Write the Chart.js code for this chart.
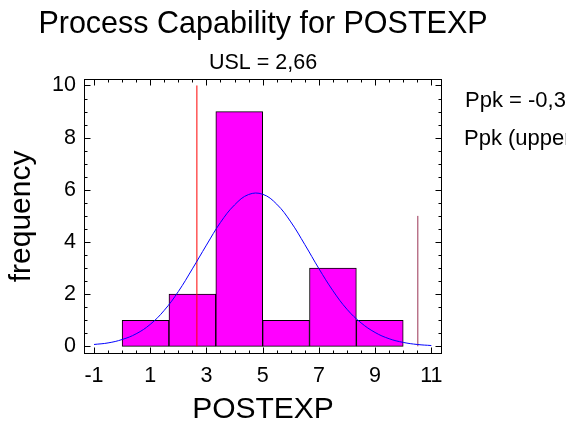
<!DOCTYPE html>
<html>
<head>
<meta charset="utf-8">
<script src="https://cdn.jsdelivr.net/npm/chart.js@4.4.0/dist/chart.umd.min.js"></script>
<style>
  html, body { margin: 0; padding: 0; background: #fff; overflow: hidden; }
  canvas { display: block; }
</style>
</head>
<body>
<canvas id="c" width="566" height="425"></canvas>
<script>
// Histogram bins (centres) and their counts
const binCenters = [0.833, 2.5, 4.167, 5.833, 7.5, 9.167];
const frequencies = [1, 2, 9, 1, 3, 1];

// Fitted normal curve, sampled every half unit
const curveX = [-1, -0.5, 0, 0.5, 1, 1.5, 2, 2.5, 3, 3.5, 4, 4.5, 5, 5.5, 6, 6.5, 7, 7.5, 8, 8.5, 9, 9.5, 10, 10.5, 11];
const curveY = [0.07, 0.13, 0.26, 0.48, 0.84, 1.38, 2.1, 2.97, 3.88, 4.75, 5.42, 5.82, 5.83, 5.45, 4.77, 3.9, 2.98, 2.13, 1.42, 0.9, 0.53, 0.29, 0.15, 0.07, 0.03];

// Specification limit and the upper reference line
const uslValue = 2.66;
const uslHeight = 10;
const limitValue = 10.52;
const limitHeight = 5;

// Axis tick labels
const xTickValues = [-1, 1, 3, 5, 7, 9, 11];
const yTickValues = [0, 2, 4, 6, 8, 10];
const minorStep = 0.5;

// Titles and the capability statistics shown at the right
const mainTitle = 'Process Capability for POSTEXP';
const subTitle = 'USL = 2,66';
const statLines = ['Ppk = -0,36', 'Ppk (upper) = -0,36'];

const FONT = "'Liberation Sans', Arial, Helvetica, sans-serif";
Chart.defaults.font.family = FONT;
Chart.defaults.color = '#000';

// Frame around the plot with inward major/minor ticks on all four sides
const frameTicks = {
  id: 'frameTicks',
  afterDatasetsDraw(chart) {
    const { ctx, chartArea: a, scales: { x, y } } = chart;
    const L = Math.round(a.left) + 0.5, R = Math.round(a.right) - 0.5;
    const T = Math.round(a.top) + 0.5, B = Math.round(a.bottom) - 0.5;
    ctx.save();
    ctx.strokeStyle = '#000';
    ctx.lineWidth = 1;
    ctx.strokeRect(L, T, R - L, B - T);
    ctx.beginPath();
    const x0 = xTickValues[0], x1 = xTickValues[xTickValues.length - 1];
    for (let v = x0; v <= x1 + 1e-9; v += minorStep) {
      const px = Math.round(x.getPixelForValue(v)) + 0.5;
      const major = xTickValues.some(t => Math.abs(t - v) < 1e-9);
      const len = major ? 6 : 3;
      ctx.moveTo(px, B); ctx.lineTo(px, B - len);
      ctx.moveTo(px, T); ctx.lineTo(px, T + len);
    }
    const y0 = yTickValues[0], y1 = yTickValues[yTickValues.length - 1];
    for (let v = y0; v <= y1 + 1e-9; v += minorStep) {
      const py = Math.round(y.getPixelForValue(v)) + 0.5;
      const major = yTickValues.some(t => Math.abs(t - v) < 1e-9);
      const len = major ? 6 : 3;
      ctx.moveTo(L, py); ctx.lineTo(L + len, py);
      ctx.moveTo(R, py); ctx.lineTo(R - len, py);
    }
    ctx.stroke();
    ctx.restore();
  }
};

// Main title centred over the plot, and statistics text to the right
const extraText = {
  id: 'extraText',
  afterDraw(chart) {
    const { ctx, chartArea: a } = chart;
    ctx.save();
    ctx.fillStyle = '#000';
    ctx.textBaseline = 'alphabetic';
    ctx.font = '30.5px ' + FONT;
    ctx.textAlign = 'center';
    ctx.fillText(mainTitle, (a.left + a.right) / 2, 33);
    ctx.font = '22px ' + FONT;
    ctx.textAlign = 'left';
    ctx.fillText(statLines[0], a.right + 23, 107);
    ctx.fillText(statLines[1], a.right + 22, 145);
    ctx.restore();
  }
};

new Chart(document.getElementById('c'), {
  type: 'bar',
  data: {
    datasets: [
      {
        type: 'line',
        data: curveX.map((x, i) => ({ x, y: curveY[i] })),
        borderColor: '#0000ff',
        borderWidth: 1,
        pointRadius: 0,
        fill: false,
        tension: 0.4,
        order: 1
      },
      {
        type: 'line',
        data: [{ x: uslValue, y: 0 }, { x: uslValue, y: uslHeight }],
        borderColor: '#ff0000',
        borderWidth: 1,
        pointRadius: 0,
        fill: false,
        order: 1
      },
      {
        type: 'line',
        data: [{ x: limitValue, y: 0 }, { x: limitValue, y: limitHeight }],
        borderColor: '#993355',
        borderWidth: 1,
        pointRadius: 0,
        fill: false,
        order: 1
      },
      {
        type: 'bar',
        data: binCenters.map((x, i) => ({ x, y: frequencies[i] })),
        backgroundColor: '#ff00ff',
        borderColor: '#000000',
        borderWidth: 1,
        borderSkipped: false,
        barPercentage: 1,
        categoryPercentage: 1,
        grouped: false,
        order: 2
      }
    ]
  },
  options: {
    responsive: false,
    animation: false,
    devicePixelRatio: 1,
    layout: { padding: { left: 0, right: 124, top: 41, bottom: 0 } },
    plugins: {
      legend: { display: false },
      tooltip: { enabled: false },
      title: { display: false },
      subtitle: {
        display: true,
        text: subTitle,
        fullSize: false,
        color: '#000',
        font: { size: 21.5, weight: 'normal', lineHeight: 1.2 },
        padding: { top: 9, bottom: 3 }
      }
    },
    scales: {
      x: {
        type: 'linear',
        offset: false,
        min: -1.356,
        max: 11.38,
        grid: { display: false, drawTicks: false },
        border: { display: false },
        afterBuildTicks: s => { s.ticks = xTickValues.map(v => ({ value: v })); },
        afterFit: s => { s.height = 71; },
        ticks: { font: { size: 21.5 }, color: '#000', padding: 9, maxRotation: 0, minRotation: 0, autoSkip: false },
        title: { display: true, text: 'POSTEXP', color: '#000', font: { size: 30, lineHeight: 1.0 }, padding: 0 }
      },
      y: {
        type: 'linear',
        min: -0.295,
        max: 10.256,
        grid: { display: false, drawTicks: false },
        border: { display: false },
        afterBuildTicks: s => { s.ticks = yTickValues.map(v => ({ value: v })); },
        afterFit: s => { s.width = 84; },
        ticks: { font: { size: 21.5 }, color: '#000', padding: 8, autoSkip: false },
        title: { display: true, text: 'frequency', color: '#000', font: { size: 30, lineHeight: 1.2 }, padding: { top: 4, bottom: 0 } }
      }
    }
  },
  plugins: [frameTicks, extraText]
});
</script>
</body>
</html>
